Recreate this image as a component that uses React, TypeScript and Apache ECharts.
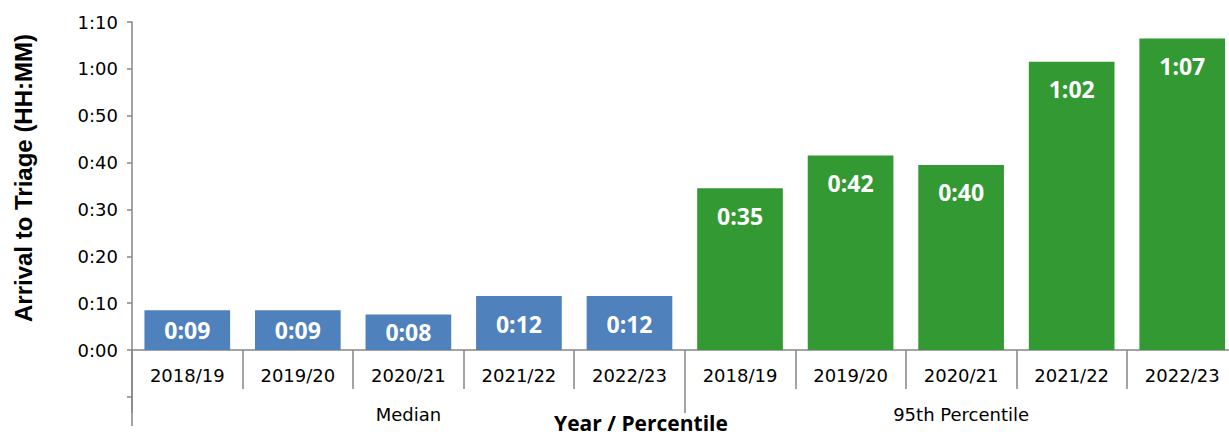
import React, { useEffect, useRef } from "react";
import * as echarts from "echarts";

const categories = [
  "2018/19", "2019/20", "2020/21", "2021/22", "2022/23",
  "2018/19", "2019/20", "2020/21", "2021/22", "2022/23",
];
const groups = ["Median", "95th Percentile"];
// minutes
const medianMinutes = [8.5, 8.5, 7.6, 11.5, 11.5];
const p95Minutes = [34.5, 41.5, 39.5, 61.5, 66.5];
const yMin = 0;
const yMax = 70;
const yInterval = 10;

const fmt = (v: number) => {
  const m = Math.round(v);
  return Math.floor(m / 60) + ":" + String(m % 60).padStart(2, "0");
};

const AXIS_GRAY = "#868686";

export default function App() {
  const ref = useRef<HTMLDivElement>(null);
  useEffect(() => {
    if (!ref.current) return;
    const chart = echarts.init(ref.current, undefined, { renderer: "svg" });
    const pad = (n: number) => Array.from({ length: n }, () => null);
    const item = (v: number) => ({
      value: v,
      label: { position: v < 10 ? "inside" : "insideTop" },
    });
    const labelStyle = {
      show: true,
      distance: 16,
      color: "#ffffff",
      fontFamily: "Open Sans",
      fontWeight: "bold",
      fontSize: 23,
      formatter: (p: any) => fmt(p.value),
    };
    chart.setOption({
      animation: false,
      backgroundColor: "#ffffff",
      grid: { left: 132, right: 2.5, top: 22, bottom: 86, containLabel: false },
      xAxis: [
        {
          type: "category",
          data: categories,
          axisLine: { show: true, lineStyle: { color: AXIS_GRAY, width: 1.5 } },
          axisTick: { show: true, interval: 0, length: 39, lineStyle: { color: AXIS_GRAY, width: 1.5 } },
          axisLabel: {
            interval: 0,
            margin: 16,
            color: "#000000",
            fontFamily: "DejaVu Sans",
            fontSize: 18,
          },
        },
        {
          type: "category",
          data: groups,
          position: "bottom",
          offset: 39,
          axisLine: { show: false },
          axisTick: { show: true, interval: 0, length: 24, lineStyle: { color: AXIS_GRAY, width: 1.5 } },
          axisLabel: {
            interval: 0,
            margin: 16,
            color: "#000000",
            fontFamily: "DejaVu Sans",
            fontSize: 18,
          },
        },
      ],
      yAxis: {
        type: "value",
        min: yMin,
        max: yMax,
        interval: yInterval,
        splitLine: { show: false },
        axisLine: { show: true, lineStyle: { color: AXIS_GRAY, width: 1.5 } },
        axisTick: { show: true, length: 5, lineStyle: { color: AXIS_GRAY, width: 1.5 } },
        axisLabel: {
          margin: 14,
          color: "#000000",
          fontFamily: "DejaVu Sans",
          fontSize: 18,
          formatter: (v: number) => fmt(v),
        },
      },
      series: [
        {
          name: "Median",
          type: "bar",
          xAxisIndex: 0,
          barCategoryGap: "22.5%",
          barGap: "-100%",
          data: [...medianMinutes.map(item), ...pad(p95Minutes.length)],
          itemStyle: { color: "#4F81BD" },
          label: labelStyle,
        },
        {
          name: "95th Percentile",
          type: "bar",
          xAxisIndex: 0,
          barCategoryGap: "22.5%",
          barGap: "-100%",
          data: [...pad(medianMinutes.length), ...p95Minutes.map(item)],
          itemStyle: { color: "#339933" },
          label: labelStyle,
        },
      ],
      graphic: [
        {
          type: "line",
          shape: { x1: 132, y1: 350, x2: 132, y2: 426 },
          style: { stroke: AXIS_GRAY, lineWidth: 1.5 },
        },
        {
          type: "line",
          shape: { x1: 127, y1: 397, x2: 132, y2: 397 },
          style: { stroke: AXIS_GRAY, lineWidth: 1.5 },
        },
        {
          type: "text",
          x: 23,
          y: 178,
          rotation: Math.PI / 2,
          style: {
            text: "Arrival to Triage (HH:MM)",
            fontFamily: "Liberation Sans",
            fontWeight: "bold",
            fontSize: 24,
            fill: "#000000",
            align: "center",
            verticalAlign: "middle",
          },
        },
        {
          type: "text",
          x: 641,
          y: 423,
          style: {
            text: "Year / Percentile",
            fontFamily: "Open Sans",
            fontWeight: "bold",
            fontSize: 21,
            fill: "#000000",
            align: "center",
            verticalAlign: "middle",
          },
        },
      ],
    });
    return () => chart.dispose();
  }, []);
  return (
    <div
      ref={ref}
      style={{ position: "fixed", left: 0, top: 0, width: 1240, height: 436, background: "#fff" }}
    />
  );
}
